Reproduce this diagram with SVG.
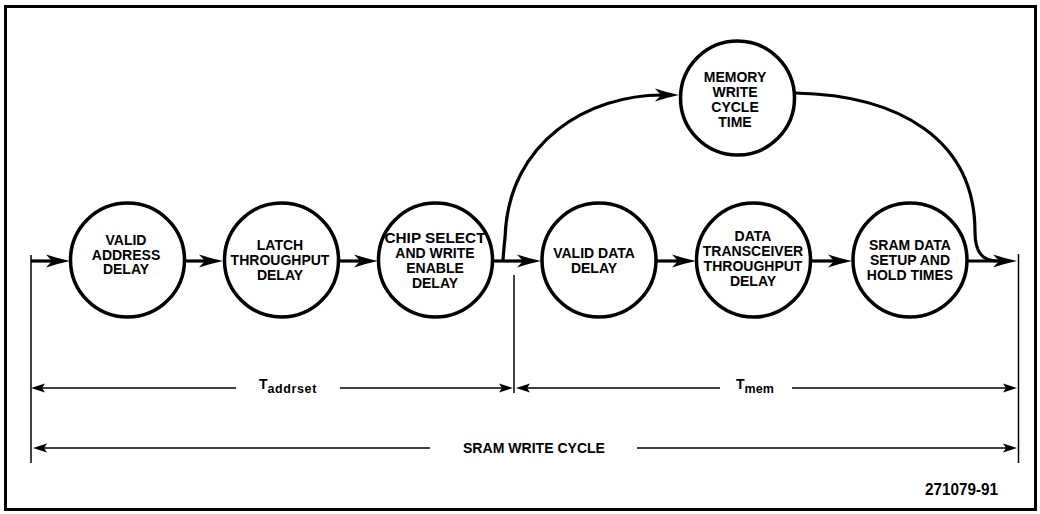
<svg xmlns="http://www.w3.org/2000/svg" xmlns:xlink="http://www.w3.org/1999/xlink" width="1040" height="514" viewBox="0 0 1040 514">
<style>
.node circle{fill:#fff;stroke:#000;stroke-width:3.5}
.lbl{font-family:"Liberation Sans",Arial,Helvetica,sans-serif;font-weight:bold;font-size:14px;fill:#000;text-anchor:middle}
.flow{fill:none;stroke:#000;stroke-width:3.2}
.thin{fill:none;stroke:#000;stroke-width:1.5}
.dim{font-family:"Liberation Sans",Arial,Helvetica,sans-serif;font-weight:bold;fill:#000}
</style>
<defs>
<path id="ah" d="M0,0 Q-12,-2.5 -24,-6.5 L-18,0 L-24,6.5 Q-12,2.5 0,0Z" fill="#000"/>
<path id="sa" d="M0,0 L-14,-4.5 L-11,0 L-14,4.5Z" fill="#000"/>
</defs>
<rect x="5.5" y="6.5" width="1030" height="503" fill="#fff" stroke="#000" stroke-width="3"/>

<g id="connectors">
<!-- main flow -->
<path class="flow" d="M31,261 H52"/>
<use xlink:href="#ah" x="70" y="261"/>
<path class="flow" d="M185,261 H206"/>
<use xlink:href="#ah" x="223" y="261"/>
<path class="flow" d="M339,261 H361"/>
<use xlink:href="#ah" x="378" y="261"/>
<path class="flow" d="M493,261 H524"/>
<use xlink:href="#ah" x="541" y="261"/>
<path class="flow" d="M656,261 H679"/>
<use xlink:href="#ah" x="696" y="261"/>
<path class="flow" d="M810,261 H835"/>
<use xlink:href="#ah" x="852" y="261"/>
<path class="flow" d="M967,261 H1000"/>
<use xlink:href="#ah" x="1017" y="261"/>
<!-- bypass curve through memory write cycle time -->
<path class="flow" d="M503,261 C503.5,252 504,246 505,238 C508,140 590,95 662,95"/>
<use xlink:href="#ah" x="679" y="95"/>
<path class="flow" d="M795,93 C900,95 975,140 975,232 C975,252 982,261 997,261"/>
<!-- boundary lines -->
<path class="thin" d="M31,255 V463"/>
<path class="thin" d="M514,275 V393"/>
<path class="thin" stroke-width="2" d="M1018.5,254 V463"/>
<!-- Taddrset -->
<path class="thin" d="M40,388 H236 M340,388 H503"/>
<use xlink:href="#sa" transform="translate(31,388) scale(-1,1)"/>
<use xlink:href="#sa" x="513" y="388"/>
<!-- Tmem -->
<path class="thin" d="M526,388 H720 M792,388 H1006"/>
<use xlink:href="#sa" transform="translate(516,388) scale(-1,1)"/>
<use xlink:href="#sa" x="1017" y="388"/>
<!-- SRAM write cycle -->
<path class="thin" d="M42,448 H430 M637,448 H1006"/>
<use xlink:href="#sa" transform="translate(33,448) scale(-1,1)"/>
<use xlink:href="#sa" x="1017" y="448"/>
</g>

<g id="n1" class="node">
<circle cx="127.5" cy="260" r="57"/>
<text class="lbl" x="126" y="245">VALID</text>
<text class="lbl" x="126" y="259.5">ADDRESS</text>
<text class="lbl" x="126" y="274">DELAY</text>
</g>
<g id="n2" class="node">
<circle cx="281.5" cy="260" r="57"/>
<text class="lbl" x="280" y="250">LATCH</text>
<text class="lbl" x="280" y="265">THROUGHPUT</text>
<text class="lbl" x="280" y="280">DELAY</text>
</g>
<g id="n3" class="node">
<circle cx="435.5" cy="260" r="57"/>
<text class="lbl" x="435" y="243" textLength="101" lengthAdjust="spacingAndGlyphs">CHIP SELECT</text>
<text class="lbl" x="435" y="258">AND WRITE</text>
<text class="lbl" x="435" y="273">ENABLE</text>
<text class="lbl" x="435" y="288">DELAY</text>
</g>
<g id="n4" class="node">
<circle cx="599" cy="260" r="57"/>
<text class="lbl" x="594" y="258">VALID DATA</text>
<text class="lbl" x="594" y="273">DELAY</text>
</g>
<g id="n5" class="node">
<circle cx="753.5" cy="260" r="57"/>
<text class="lbl" x="753" y="241">DATA</text>
<text class="lbl" x="753" y="256">TRANSCEIVER</text>
<text class="lbl" x="753" y="271">THROUGHPUT</text>
<text class="lbl" x="753" y="286">DELAY</text>
</g>
<g id="n6" class="node">
<circle cx="910" cy="260" r="57"/>
<text class="lbl" x="910" y="250">SRAM DATA</text>
<text class="lbl" x="910" y="265">SETUP AND</text>
<text class="lbl" x="910" y="280">HOLD TIMES</text>
</g>
<g id="n7" class="node">
<circle cx="737.5" cy="98" r="57"/>
<text class="lbl" x="735" y="82">MEMORY</text>
<text class="lbl" x="735" y="97">WRITE</text>
<text class="lbl" x="735" y="112">CYCLE</text>
<text class="lbl" x="735" y="127">TIME</text>
</g>

<g id="labels">
<text class="dim" x="259" y="389" font-size="14">T<tspan font-size="12.5" dy="4" letter-spacing="0.6">addrset</tspan></text>
<text class="dim" x="736" y="389" font-size="14">T<tspan font-size="12.5" dy="4">mem</tspan></text>
<text class="dim" x="463" y="453" font-size="15" textLength="142" lengthAdjust="spacingAndGlyphs">SRAM WRITE CYCLE</text>
<text class="dim" x="925" y="495" font-size="16" textLength="73" lengthAdjust="spacingAndGlyphs">271079-91</text>
</g>
</svg>
